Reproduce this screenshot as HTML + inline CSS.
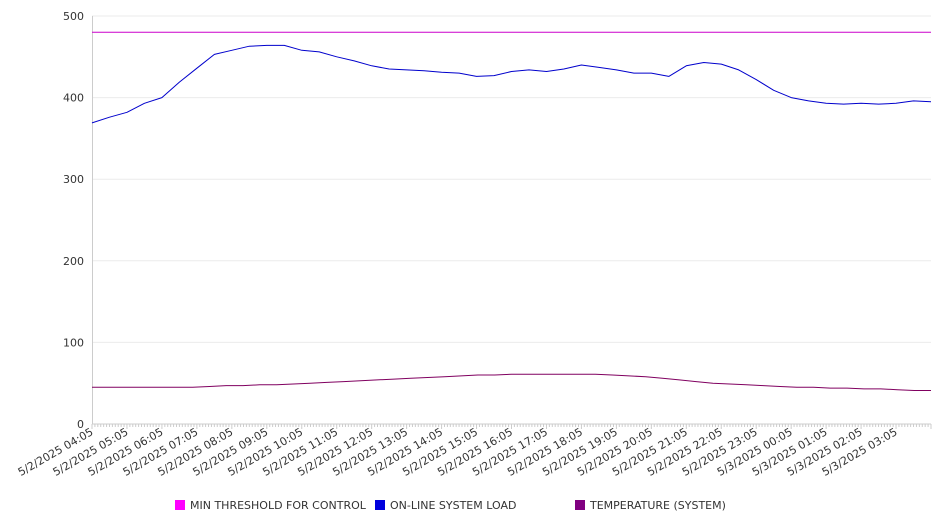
<!DOCTYPE html>
<html><head><meta charset="utf-8"><style>
body{margin:0;background:#fff;font-family:"DejaVu Sans","Liberation Sans",sans-serif;}
svg text{font-family:"DejaVu Sans","Liberation Sans",sans-serif;font-size:11px;fill:#333;}
</style></head><body>
<svg id="chart" width="946" height="526" xmlns="http://www.w3.org/2000/svg">
<g id="grid"></g>
<g id="axes"></g>
<g id="series"></g>
<g id="legend"></g>
</svg>
<script>
const xLabels=["04:05","05:05","06:05","07:05","08:05","09:05","10:05","11:05","12:05","13:05","14:05","15:05","16:05","17:05","18:05","19:05","20:05","21:05","22:05","23:05","00:05","01:05","02:05","03:05"];
const yTicks=[0,100,200,300,400,500];
const loadValues=[369,376,382,393,400,419,436,453,458,463,464,464,458,456,450,445,439,435,434,433,431,430,426,427,432,434,432,435,440,437,434,430,430,426,439,443,441,434,422,409,400,396,393,392,393,392,393,396,395];
const tempValues=[45,45,45,45,45,45,45,46,47,47,48,48,49,50,51,52,53,54,55,56,57,58,59,60,60,61,61,61,61,61,61,60,59,58,56,54,52,50,49,48,47,46,45,45,44,44,43,43,42,41,41];
const thresholdValue=480;
const legendItems=[["MIN THRESHOLD FOR CONTROL","#ff00ff"],["ON-LINE SYSTEM LOAD","#0000dd"],["TEMPERATURE (SYSTEM)","#800080"]];

const NS="http://www.w3.org/2000/svg";
const L=92,R=931,T=16,B=424;
const yS=v=>B-(v/500)*(B-T);
const hours=24;
const xH=h=>L+(h/hours)*(R-L);
function mk(tag,attrs,parent){const e=document.createElementNS(NS,tag);for(const k in attrs)e.setAttribute(k,attrs[k]);parent.appendChild(e);return e;}
const grid=document.getElementById('grid'),axes=document.getElementById('axes'),series=document.getElementById('series'),legend=document.getElementById('legend');

yTicks.forEach(v=>{
  const ln=mk('line',{x1:L,x2:R,y1:yS(v),y2:yS(v),stroke:v===0?'#ccc':'#ebebeb','stroke-width':1},grid);
  
  
  const t=mk('text',{x:84,y:yS(v)+4,'text-anchor':'end'},axes);
  t.textContent=v;
  
  
});
const ya=mk('line',{x1:L+0.5,x2:L+0.5,y1:T,y2:B,stroke:'#ccc'},axes);


for(let i=0;i<=hours*12;i++){
  const x=L+i*(R-L)/(hours*12);
  const tk=mk('line',{x1:x,x2:x,y1:B,y2:B+(i%12===0?5:3),stroke:'#ccc'},axes);
  
  
}
xLabels.forEach((lab,i)=>{
  const x=xH(i)+2;
  const y=B+10;
  const t=mk('text',{x:x,y:y,'text-anchor':'end',transform:`rotate(-30 ${x} ${y})`},axes);
  t.textContent=(i>=20?"5/3/2025 ":"5/2/2025 ")+lab;
  
  
});
function line(vals,color,name){
  const n=vals.length-1;
  const d=vals.map((v,i)=>(i?'L':'M')+xH(i*hours/n).toFixed(1)+','+yS(v).toFixed(1)).join(' ');
  const p=mk('path',{d:d,fill:'none',stroke:color,'stroke-width':1,'stroke-linejoin':'round'},series);
  
  
}
line([thresholdValue,thresholdValue],'#cc00cc','threshold-line');
line(loadValues,'#0000cc','load-line');
line(tempValues,'#800060','temperature-line');
const lx=[175,375,575];
legendItems.forEach((it,i)=>{
  const r=mk('rect',{x:lx[i],y:500,width:10,height:10,fill:it[1]},legend);
  
  
  const t=mk('text',{x:lx[i]+15,y:509},legend);
  t.textContent=it[0];
  
  
});
</script>
</body></html>
